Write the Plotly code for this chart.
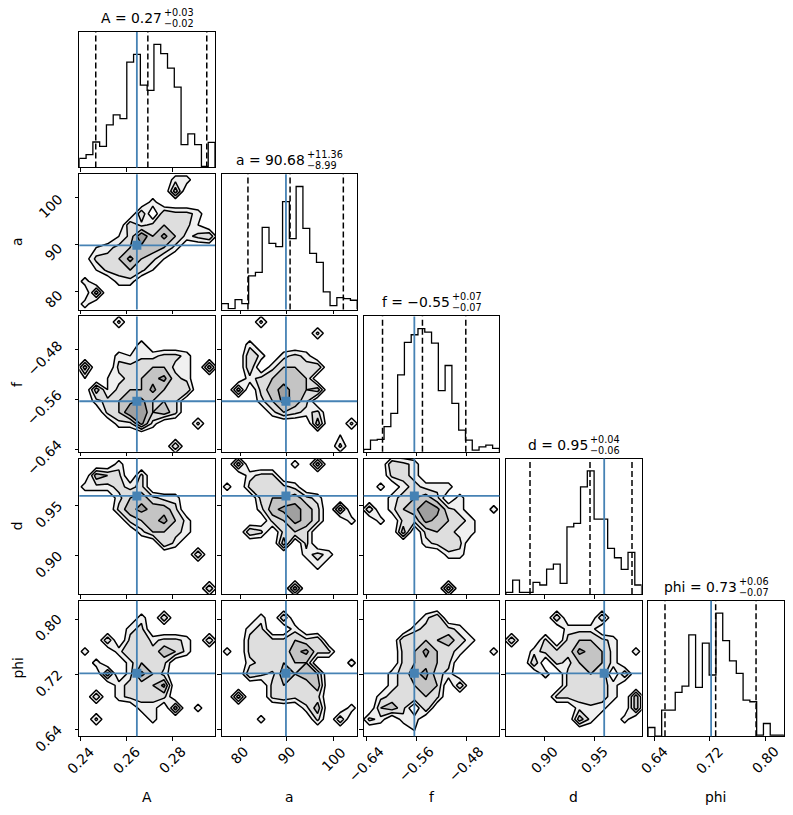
import plotly.graph_objects as go

W, H = 793, 815

# ---------------- data ----------------
names = ["A", "a", "f", "d", "phi"]
ranges = [[0.2393, 0.2987], [76.05, 105.0], [-0.6442, -0.4266], [0.8617, 0.9974], [0.631, 0.827]]
tick_vals = [[0.24, 0.26, 0.28], [80, 90, 100], [-0.64, -0.56, -0.48], [0.90, 0.95], [0.64, 0.72, 0.80]]
tick_text = [["0.24", "0.26", "0.28"], ["80", "90", "100"], ["−0.64", "−0.56", "−0.48"],
             ["0.90", "0.95"], ["0.64", "0.72", "0.80"]]
truths = [0.2645, 89.8, -0.563, 0.960, 0.722]

quant_A = [0.2465, 0.2693, 0.2951]
quant_a = [81.69, 90.68, 102.04]
quant_f = [-0.614, -0.550, -0.4805]
quant_d = [0.8858, 0.9458, 0.9878]
quant_phi = [0.6554, 0.7286, 0.7869]

hist_A = [27, 38, 76, 63, 127, 157, 146, 315, 338, 246, 230, 368, 340, 297, 240, 68, 100, 68, 3, 75]
hist_a = [18, 3, 30, 18, 101, 111, 246, 198, 188, 323, 212, 368, 243, 168, 141, 53, 12, 36, 33, 28]
hist_f = [7, 35, 37, 75, 115, 230, 327, 350, 368, 358, 325, 183, 258, 145, 65, 35, 5, 15, 20, 10]
hist_d = [5, 42, 5, 5, 35, 27, 75, 90, 32, 202, 212, 322, 370, 225, 225, 137, 109, 74, 125, 27]
hist_phi = [26, 0, 78, 78, 131, 150, 303, 146, 278, 183, 368, 286, 225, 188, 108, 103, 3, 38, 3, 3]

title_main = ["A = 0.27", "a = 90.68", "f = −0.55", "d = 0.95", "phi = 0.73"]
title_up = ["+0.03", "+11.36", "+0.07", "+0.04", "+0.06"]
title_dn = ["−0.02", "−8.99", "−0.07", "−0.06", "−0.07"]

# coarse 2D density levels (rows top -> bottom, columns left -> right)
dens_a_A = ["000000003300", "000000006000", "000000300000", "000005054430",
            "000053454420", "000248575345", "023456653000", "144575420000",
            "024454200000", "300330000000", "060000000000", "300000000000"]
dens_f_A = ["000400000000", "000000000000", "000003000000", "000323344300",
            "600445553306", "202345674300", "062455754500", "034567554000",
            "004588564000", "000337300040", "000000000000", "000000005000"]
dens_f_a = ["000400000000", "000000004000", "003000000000", "005303430000",
            "205035545000", "003456650000", "060467656000", "000357640000",
            "000035434000", "000000006004", "000000000020", "000000000040"]
dens_d_A = ["000300000000", "065404000000", "333434000000", "000356433000",
            "000467664000", "000045675300", "000003554300", "000000053000",
            "000000000050", "000000000000", "000000000000", "000000000005"]
dens_d_a = ["060000306000", "003440000000", "304444300000", "000455643000",
            "000367764060", "000045764003", "005404540000", "000006040000",
            "000000034300", "000000003000", "000000000000", "000000600000"]
dens_d_f = ["005430000000", "004430000000", "030343330000", "003456403000",
            "503568743003", "030447654300", "000604543300", "000003454000",
            "000000033000", "000000000000", "000000000000", "000000060000"]
dens_phi_A = ["000000000000", "000003050000", "000034000000", "005045344305",
              "300355465300", "030035540000", "006037530000", "000344570000",
              "050344440000", "000003306030", "040000300000", "000000000000"]
dens_phi_a = ["000000000000", "000305000000", "003400300000", "004544545000",
              "304554674400", "003455550003", "005436565000", "000045446000",
              "060045454000", "000000036003", "000300004050", "000000000000"]
dens_phi_f = ["000000000000", "000003500000", "000034443000", "000555564300",
              "000457543003", "000456540000", "003467430000", "003456505000",
              "034555400000", "056405000000", "430330000000", "000020000000"]
dens_phi_d = ["000000000000", "000050005000", "000003330000", "500404554300",
              "003444765303", "005043565300", "000304555050", "000004544300",
              "000044454306", "000000333006", "000000630030", "000000000000"]

# ---------------- assembly ----------------
hists = [hist_A, hist_a, hist_f, hist_d, hist_phi]
quants = [quant_A, quant_a, quant_f, quant_d, quant_phi]
dens = {(1, 0): dens_a_A, (2, 0): dens_f_A, (2, 1): dens_f_a,
        (3, 0): dens_d_A, (3, 1): dens_d_a, (3, 2): dens_d_f,
        (4, 0): dens_phi_A, (4, 1): dens_phi_a, (4, 2): dens_phi_f, (4, 3): dens_phi_d}

col_x0 = [79.3, 221.5, 363.7, 505.9, 648.1]
row_y0 = [32.0, 174.2, 316.4, 458.6, 600.8]
PW, PH = 135.7, 135.4

BLUE = "#4682b4"
FONT = "DejaVu Sans"
fs = 13.9
fs_script = 9.7

# DejaVu Sans advance widths (em) used to centre the composite titles
EM = {"A": 0.684, "a": 0.613, "f": 0.352, "d": 0.635, "p": 0.635, "h": 0.634, "i": 0.278,
      " ": 0.318, "=": 0.838, ".": 0.318, "+": 0.838, "−": 0.838}
for dch in "0123456789":
    EM[dch] = 0.636


def text_w(s, size):
    return sum(EM.get(ch, 0.6) for ch in s) * size


fig = go.Figure()
axes = {}
shapes = []
annos = []

common = dict(showgrid=False, zeroline=False, showline=True, mirror=True,
              linecolor="black", linewidth=1, ticks="outside", ticklen=3.5,
              tickwidth=0.8, tickcolor="black", showticklabels=False, fixedrange=True)

# contour levels 2, 3.5, 5, 6.5, 8 -> band colours
cscale = [[0, "rgba(255,255,255,0)"], [0.2, "rgb(240,240,240)"], [0.4, "rgb(222,222,222)"],
          [0.6, "rgb(196,196,196)"], [0.8, "rgb(160,160,160)"], [1, "rgb(115,115,115)"]]

k = 0
for i in range(5):
    for j in range(i + 1):
        k += 1
        sid = "" if k == 1 else str(k)
        xa, ya = "x" + sid, "y" + sid
        xd = [col_x0[j] / W, (col_x0[j] + PW) / W]
        yd = [1 - (row_y0[i] + PH) / H, 1 - row_y0[i] / H]
        axes["xaxis" + sid] = dict(domain=xd, anchor=ya, range=ranges[j],
                                   tickvals=tick_vals[j], **common)
        if i == j:
            h = hists[i]
            c2 = dict(common)
            c2["ticks"] = ""
            axes["yaxis" + sid] = dict(domain=yd, anchor=xa, range=[0, 1.1 * max(h)], **c2)
            lo, hi = ranges[i]
            nb = len(h)
            edges = [lo + (hi - lo) * b / nb for b in range(nb + 1)]
            xs = [edges[0]] + edges[:nb] + [edges[nb]]
            ys = [0] + list(h) + [0]
            fig.add_trace(go.Scatter(x=xs, y=ys, mode="lines", line=dict(color="black", width=1.3, shape="hv"),
                                     xaxis=xa, yaxis=ya, hoverinfo="skip", showlegend=False))
            for q in quants[i]:
                shapes.append(dict(type="line", xref=xa, yref=ya + " domain", x0=q, x1=q, y0=0, y1=1,
                                   line=dict(color="black", width=1.5, dash="6px,3px")))
            shapes.append(dict(type="line", xref=xa, yref=ya + " domain", x0=truths[i], x1=truths[i],
                               y0=0, y1=1, line=dict(color=BLUE, width=1.8)))
            # title: main text + stacked super/subscript, centred over the panel
            ty = row_y0[i]
            mw = text_w(title_main[i], fs)
            sw = max(text_w(title_up[i], fs_script), text_w(title_dn[i], fs_script))
            split = col_x0[i] + PW / 2 - (mw + sw) / 2 + mw
            sx = split / W
            annos.append(dict(text=title_main[i], x=sx, y=1 - (ty - 14) / H, xref="paper", yref="paper",
                              xanchor="right", yanchor="middle", showarrow=False, borderpad=0,
                              font=dict(family=FONT, size=fs, color="black")))
            annos.append(dict(text=title_up[i], x=sx, y=1 - (ty - 19.5) / H, xref="paper", yref="paper",
                              xanchor="left", yanchor="middle", showarrow=False, borderpad=0,
                              font=dict(family=FONT, size=fs_script, color="black")))
            annos.append(dict(text=title_dn[i], x=sx, y=1 - (ty - 8.5) / H, xref="paper", yref="paper",
                              xanchor="left", yanchor="middle", showarrow=False, borderpad=0,
                              font=dict(family=FONT, size=fs_script, color="black")))
        else:
            axes["yaxis" + sid] = dict(domain=yd, anchor=xa, range=ranges[i],
                                       tickvals=tick_vals[i], **common)
            g = dens[(i, j)]
            n = len(g)
            inner = [[int(ch) for ch in row] for row in reversed(g)]
            Z = [[0] * (n + 2)] + [[0] + r + [0] for r in inner] + [[0] * (n + 2)]
            xlo, xhi = ranges[j]
            ylo, yhi = ranges[i]
            dx = (xhi - xlo) / n
            dy = (yhi - ylo) / n
            xs = [xlo + (c - 0.5) * dx for c in range(n + 2)]
            ys = [ylo + (r - 0.5) * dy for r in range(n + 2)]
            fig.add_trace(go.Contour(x=xs, y=ys, z=Z, autocontour=False,
                                     contours=dict(start=2, end=8, size=1.5, coloring="fill"),
                                     colorscale=cscale, showscale=False,
                                     line=dict(color="black", width=1.5, smoothing=0),
                                     xaxis=xa, yaxis=ya, hoverinfo="skip"))
            fig.add_trace(go.Scatter(x=[truths[j]], y=[truths[i]], mode="markers",
                                     marker=dict(symbol="square", size=9, color=BLUE),
                                     xaxis=xa, yaxis=ya, hoverinfo="skip", showlegend=False))
            shapes.append(dict(type="line", xref=xa, yref=ya + " domain", x0=truths[j], x1=truths[j],
                               y0=0, y1=1, line=dict(color=BLUE, width=1.8)))
            shapes.append(dict(type="line", xref=xa + " domain", yref=ya, x0=0, x1=1, y0=truths[i],
                               y1=truths[i], line=dict(color=BLUE, width=1.8)))
        # tick labels
        if i == 4:
            for v, t in zip(tick_vals[j], tick_text[j]):
                annos.append(dict(text=t, x=v, xref=xa, y=1 - 742 / H, yref="paper",
                                  xanchor="center", yanchor="top", textangle=-45, showarrow=False,
                                  borderpad=0, font=dict(family=FONT, size=fs, color="black")))
            annos.append(dict(text=names[j], x=(col_x0[j] + PW / 2) / W, y=1 - 797 / H,
                              xref="paper", yref="paper", xanchor="center", yanchor="middle",
                              showarrow=False, font=dict(family=FONT, size=fs, color="black")))
        if j == 0 and i >= 1:
            for v, t in zip(tick_vals[i], tick_text[i]):
                annos.append(dict(text=t, x=67 / W, xref="paper", y=v, yref=ya, yshift=-8,
                                  xanchor="right", yanchor="middle", textangle=-45, showarrow=False,
                                  borderpad=0, font=dict(family=FONT, size=fs, color="black")))
            annos.append(dict(text=names[i], x=17 / W, y=1 - (row_y0[i] + PH / 2) / H,
                              xref="paper", yref="paper", xanchor="center", yanchor="middle",
                              textangle=-90, showarrow=False,
                              font=dict(family=FONT, size=fs, color="black")))

fig.update_layout(width=W, height=H, margin=dict(l=0, r=0, t=0, b=0),
                  paper_bgcolor="white", plot_bgcolor="white", showlegend=False,
                  font=dict(family=FONT, size=fs, color="black"),
                  shapes=shapes, annotations=annos, **axes)

fig.write_html("out.html")
